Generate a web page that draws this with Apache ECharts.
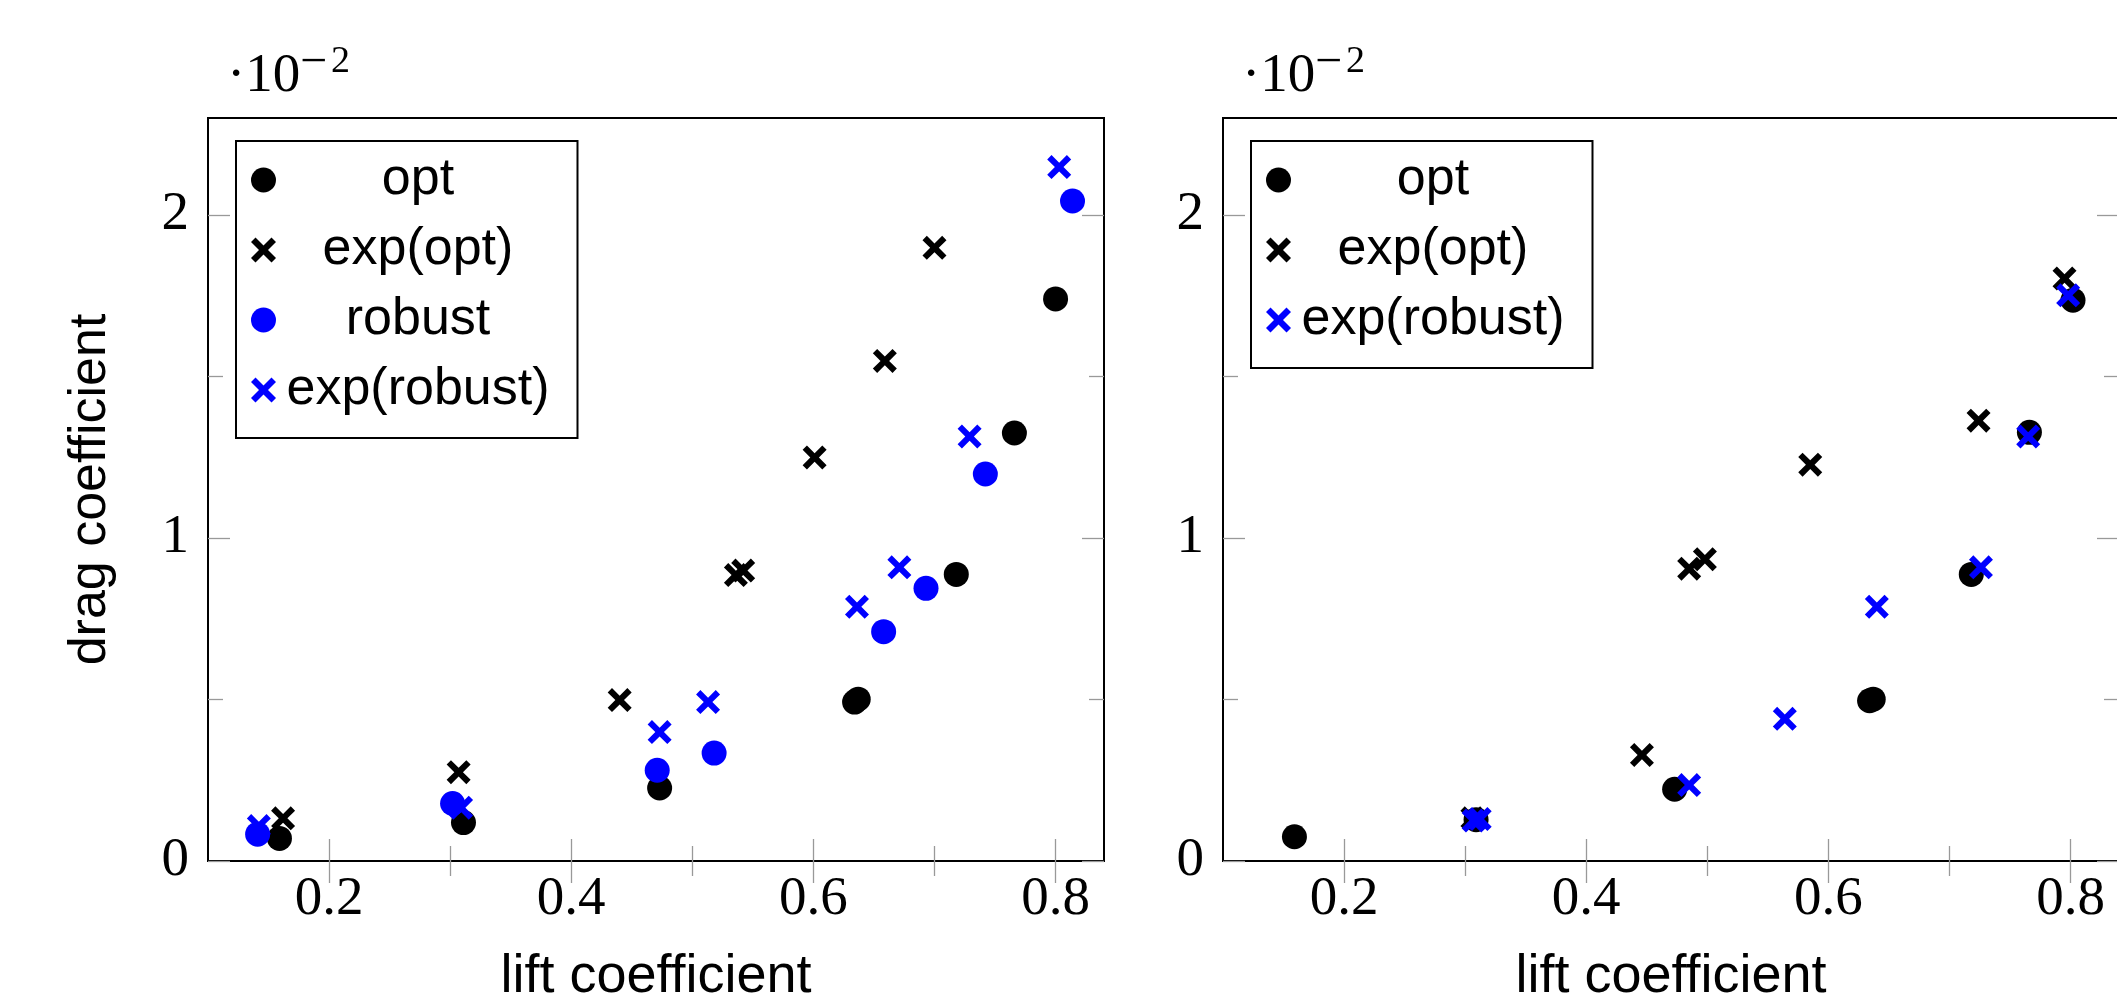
<!DOCTYPE html>
<html><head><meta charset="utf-8">
<script src="https://cdn.jsdelivr.net/npm/echarts@6/dist/echarts.min.js"></script>
<style>html,body{margin:0;padding:0;background:#fff}#c{width:2117px;height:997px}</style>
</head><body><div id="c"></div>
<script>
// ---- tick labels ----
const xTickLabels = [0.2, 0.4, 0.6, 0.8];
const xMinorTicks = [0.3, 0.5, 0.7];
const yTickLabels = [0, 1, 2];
const yMinorTicks = [0.5, 1.5];
const xName = 'lift coefficient';
const yName = 'drag coefficient';

// ---- left plot data (drag coefficient in units of 1e-2) ----
const optX_L = [0.159, 0.311, 0.473, 0.634, 0.637, 0.718, 0.766, 0.800];
const optY_L = [0.070, 0.119, 0.226, 0.492, 0.501, 0.887, 1.325, 1.740];
const expOptX_L = [0.162, 0.307, 0.440, 0.536, 0.542, 0.601, 0.659, 0.700];
const expOptY_L = [0.132, 0.275, 0.498, 0.885, 0.899, 1.249, 1.548, 1.898];
const robustX_L = [0.141, 0.302, 0.471, 0.518, 0.658, 0.693, 0.742, 0.814];
const robustY_L = [0.083, 0.178, 0.281, 0.334, 0.710, 0.844, 1.198, 2.043];
const expRobX_L = [0.142, 0.309, 0.473, 0.513, 0.636, 0.671, 0.729, 0.803];
const expRobY_L = [0.108, 0.165, 0.399, 0.492, 0.787, 0.909, 1.314, 2.148];

// ---- right plot data ----
const optX_R = [0.159, 0.309, 0.473, 0.634, 0.637, 0.718, 0.766, 0.802];
const optY_R = [0.075, 0.128, 0.222, 0.496, 0.501, 0.887, 1.327, 1.736];
const expOptX_R = [0.306, 0.446, 0.485, 0.498, 0.585, 0.724, 0.795];
const expOptY_R = [0.132, 0.328, 0.905, 0.934, 1.227, 1.363, 1.803];
const expRobX_R = [0.307, 0.312, 0.485, 0.564, 0.640, 0.726, 0.765, 0.798];
const expRobY_R = [0.125, 0.130, 0.235, 0.440, 0.787, 0.909, 1.314, 1.751];

const legendL = ['opt', 'exp(opt)', 'robust', 'exp(robust)'];
const legendR = ['opt', 'exp(opt)', 'exp(robust)'];

const CROSS = 'path://M18 100L50 68L82 100L100 82L68 50L100 18L82 0L50 32L18 0L0 18L32 50L0 82Z';
const BLUE = '#0000ff', BLACK = '#000000';
const TICK = {color: '#999999', width: 1.3};
const SERIF = 'Liberation Serif', SANS = 'Liberation Sans';

function zip(xs, ys) { return xs.map((x, i) => [x, ys[i]]); }

function xAxes(g) {
  const base = {type: 'value', gridIndex: g, min: 0.1, max: 0.84, axisLine: {show: false}, splitLine: {show: false}};
  const mk = (pos, vals, len, labels) => Object.assign({}, base, {
    position: pos,
    axisTick: {show: true, inside: true, length: len, customValues: vals, lineStyle: TICK},
    axisLabel: labels ? {show: true, customValues: xTickLabels, margin: 11, fontFamily: SERIF, fontSize: 55, color: BLACK, formatter: v => v.toFixed(1)} : {show: false}
  });
  return [mk('bottom', xTickLabels, 22, true), mk('bottom', xMinorTicks, 15, false),
          mk('top', xTickLabels, 22, false), mk('top', xMinorTicks, 15, false)];
}
function yAxes(g) {
  const base = {type: 'value', gridIndex: g, min: 0, max: 2.3, axisLine: {show: false}, splitLine: {show: false}};
  const mk = (pos, vals, len, labels) => Object.assign({}, base, {
    position: pos,
    axisTick: {show: true, inside: true, length: len, customValues: vals, lineStyle: TICK},
    axisLabel: labels ? {show: true, customValues: yTickLabels, margin: 19, fontFamily: SERIF, fontSize: 55, color: BLACK, formatter: v => String(v)} : {show: false}
  });
  return [mk('left', yTickLabels, 22, true), mk('left', yMinorTicks, 15, false),
          mk('right', yTickLabels, 22, false), mk('right', yMinorTicks, 15, false)];
}
function sc(name, xi, xs, ys, sym, color) {
  return {type: 'scatter', name: name, xAxisIndex: xi, yAxisIndex: xi,
    symbol: sym === 'x' ? CROSS : 'circle', symbolSize: sym === 'x' ? 24 : 25,
    itemStyle: {color: color, opacity: 1}, data: zip(xs, ys), animation: false};
}
function legend(left, names) {
  return {left: left, top: 141, orient: 'vertical', padding: [13, 28, 22, 15], itemGap: 18,
    itemWidth: 25, itemHeight: 25, borderColor: BLACK, borderWidth: 2, backgroundColor: '#fff',
    selectedMode: false, data: names,
    formatter: n => '{c|' + n + '}',
    textStyle: {color: BLACK, rich: {c: {width: 274, align: 'center', fontFamily: SANS, fontSize: 52, color: BLACK}}}};
}
function expo(dx) {
  return [
    {type: 'text', x: 227 + dx, y: 76.5, style: {text: '\u00b710', font: '55px "Liberation Serif"', fill: BLACK, align: 'left', verticalAlign: 'middle'}},
    {type: 'text', x: 300 + dx, y: 63, style: {text: '\u2212', font: '48px "Liberation Serif"', fill: BLACK, align: 'left', verticalAlign: 'middle'}},
    {type: 'text', x: 331 + dx, y: 62.5, style: {text: '2', font: '38px "Liberation Serif"', fill: BLACK, align: 'left', verticalAlign: 'middle'}}
  ];
}
function names() {
  return [
    {type: 'text', x: 656, y: 977, style: {text: xName, font: '54px "Liberation Sans"', fill: BLACK, align: 'center', verticalAlign: 'middle'}},
    {type: 'text', x: 1671, y: 977, style: {text: xName, font: '54px "Liberation Sans"', fill: BLACK, align: 'center', verticalAlign: 'middle'}},
    {type: 'text', x: 91, y: 489.5, rotation: Math.PI / 2, style: {text: yName, font: '52px "Liberation Sans"', fill: BLACK, align: 'center', verticalAlign: 'middle'}}
  ];
}

const gridBase = {top: 118, width: 896, height: 743, show: true, borderColor: BLACK, borderWidth: 2,
  containLabel: false, outerBoundsMode: 'none'};

const chart = echarts.init(document.getElementById('c'), null, {renderer: 'canvas'});
chart.setOption({
  animation: false,
  backgroundColor: '#fff',
  grid: [
    Object.assign({left: 208}, gridBase),
    Object.assign({left: 1223}, gridBase)
  ],
  xAxis: xAxes(0).concat(xAxes(1)),
  yAxis: yAxes(0).concat(yAxes(1)),
  legend: [legend(236, legendL), legend(1251, legendR)],
  graphic: expo(0).concat(expo(1015), names()),
  series: [
    sc('opt', 0, optX_L, optY_L, 'o', BLACK),
    sc('exp(opt)', 0, expOptX_L, expOptY_L, 'x', BLACK),
    sc('robust', 0, robustX_L, robustY_L, 'o', BLUE),
    sc('exp(robust)', 0, expRobX_L, expRobY_L, 'x', BLUE),
    sc('opt', 4, optX_R, optY_R, 'o', BLACK),
    sc('exp(opt)', 4, expOptX_R, expOptY_R, 'x', BLACK),
    sc('exp(robust)', 4, expRobX_R, expRobY_R, 'x', BLUE)
  ]
});
</script></body></html>
